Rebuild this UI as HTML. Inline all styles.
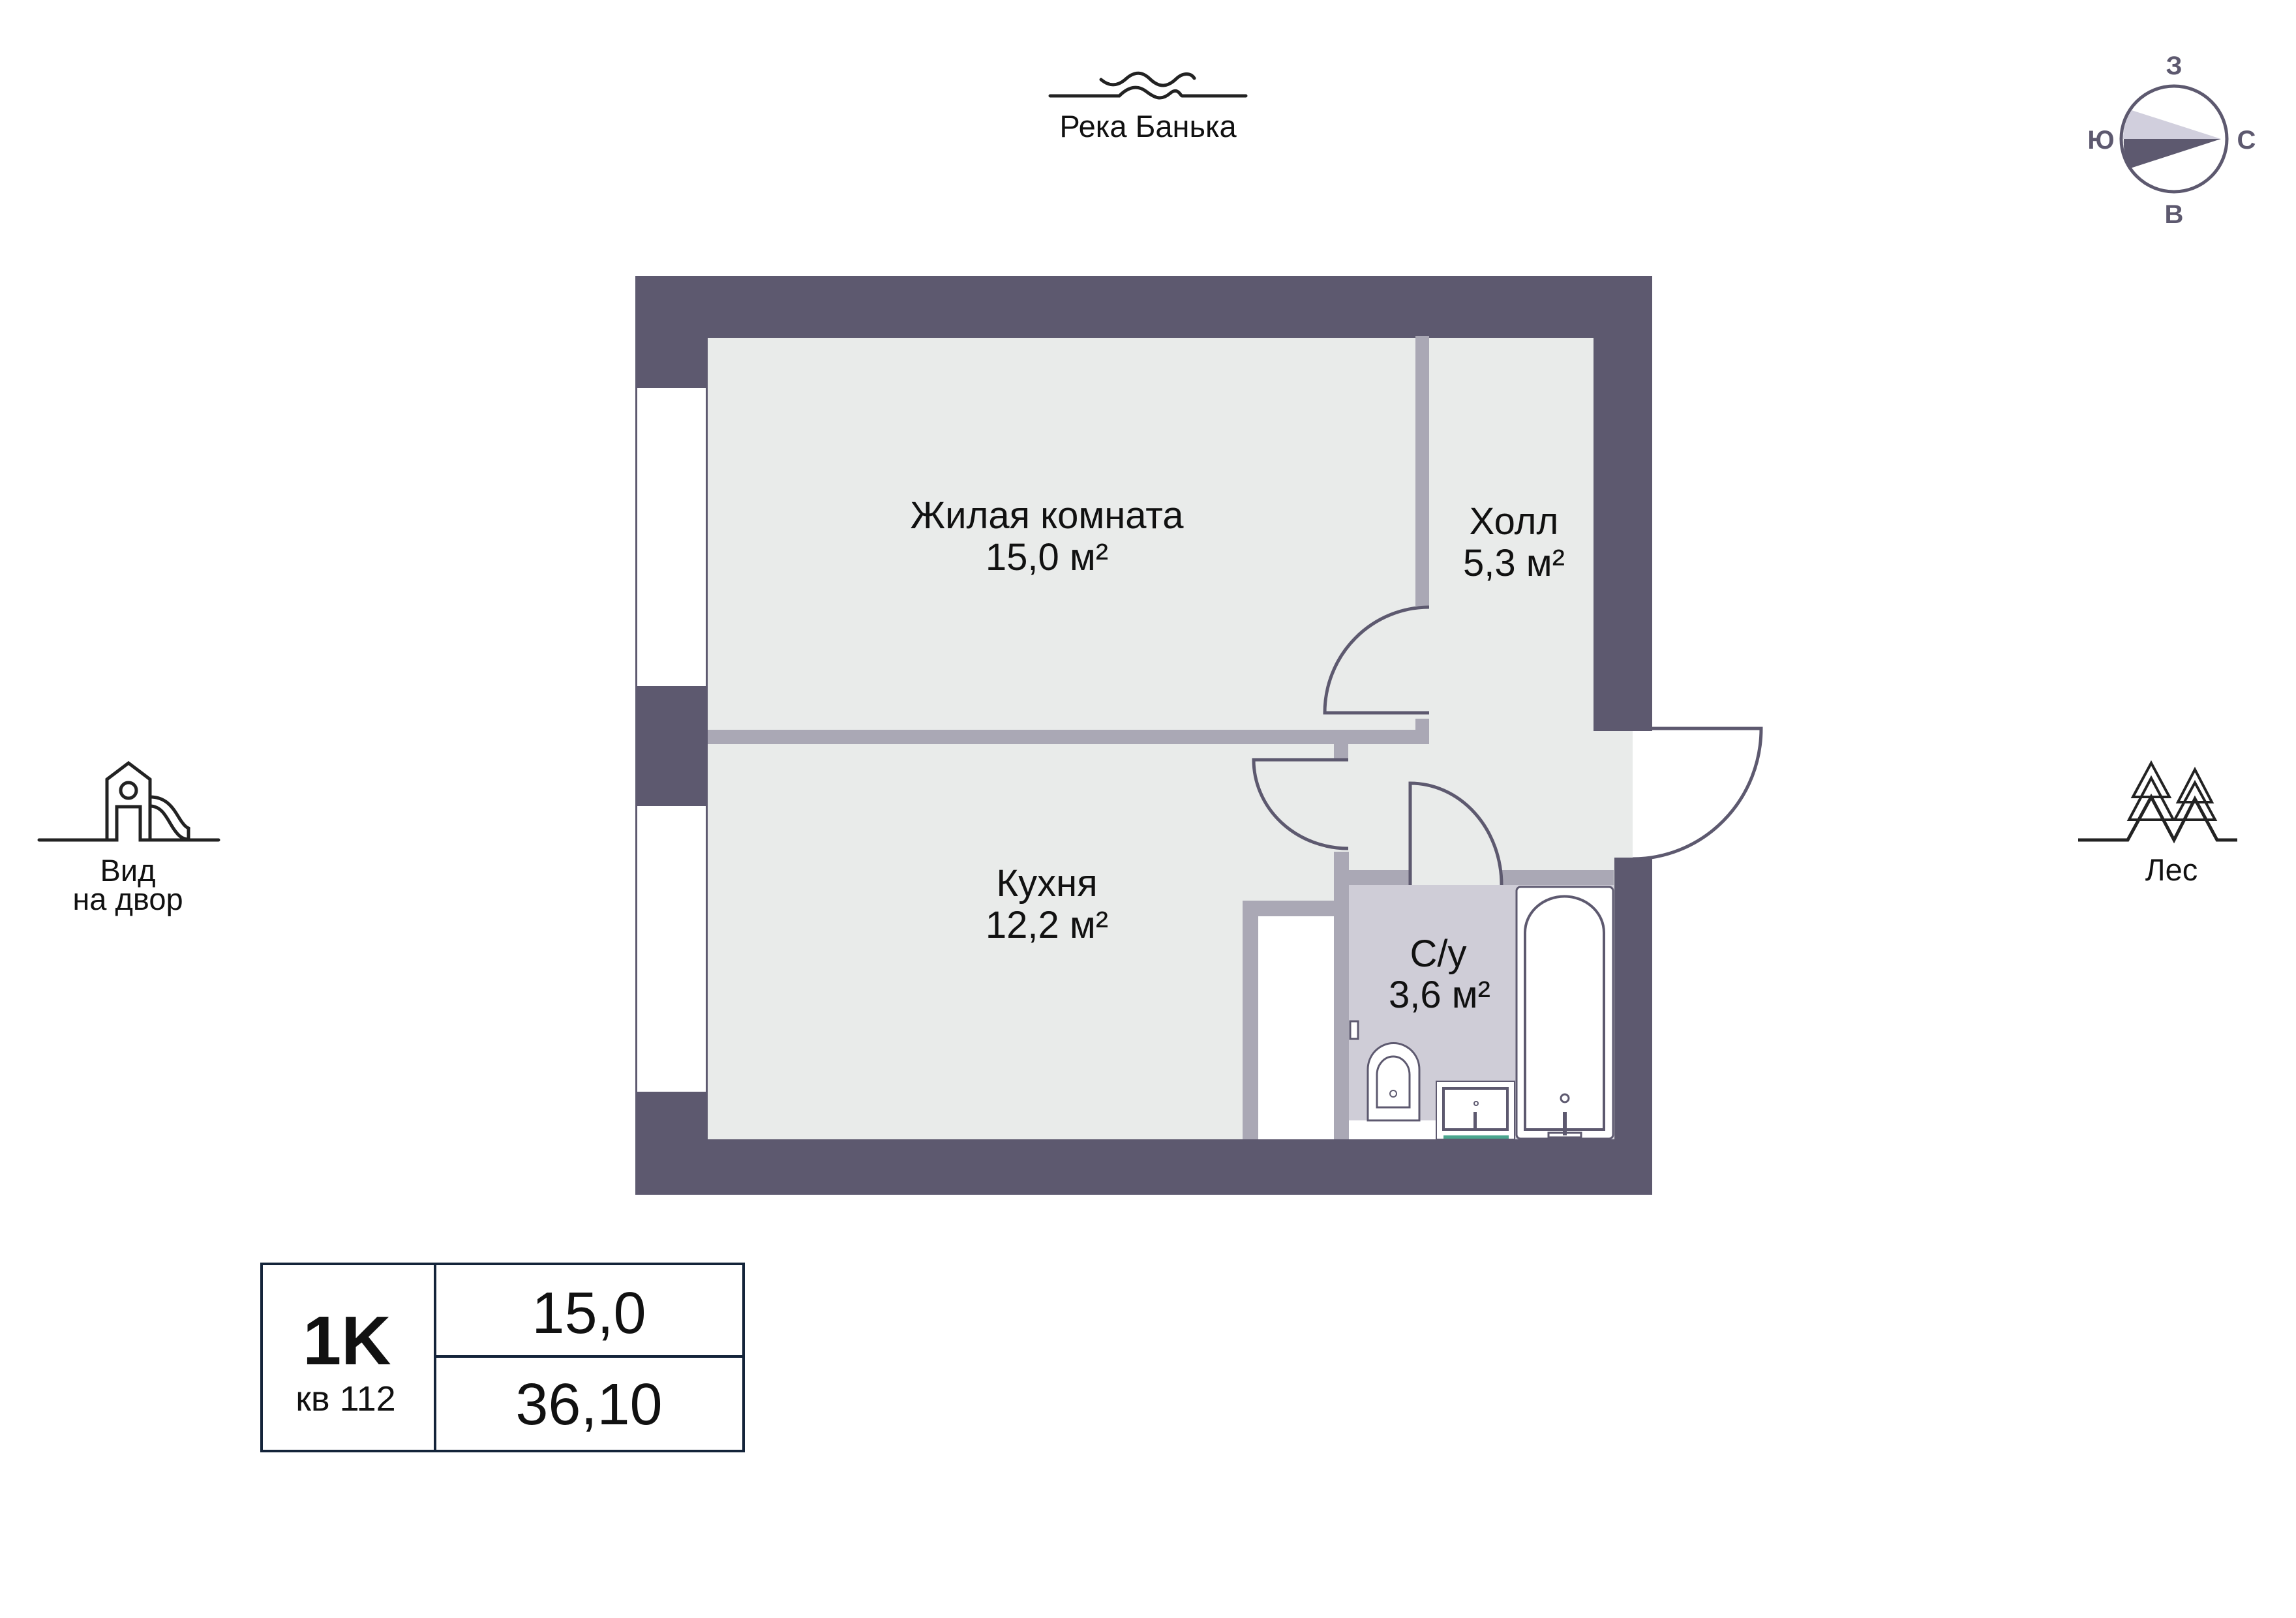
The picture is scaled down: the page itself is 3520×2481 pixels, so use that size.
<!DOCTYPE html>
<html><head><meta charset="utf-8"><style>
html,body{margin:0;padding:0;background:#fff;}
svg{display:block;}
text{font-family:"Liberation Sans","DejaVu Sans",sans-serif;}
</style></head><body>
<svg width="3520" height="2481" viewBox="0 0 3520 2481" xmlns="http://www.w3.org/2000/svg">
<rect width="3520" height="2481" fill="#fff"/>
<rect x="974" y="423" width="1559" height="1409" fill="#5d596f"/>
<rect x="1085" y="518" width="1358" height="1229" fill="#e9ebea"/>
<rect x="2443" y="1121" width="60" height="194" fill="#e9ebea"/>
<rect x="2503" y="1121" width="30" height="194" fill="#fff"/>
<rect x="2443" y="1315" width="32" height="432" fill="#e9ebea"/>
<rect x="977" y="595" width="105" height="457" fill="#fff"/>
<rect x="977" y="1236" width="105" height="438" fill="#fff"/>
<rect x="2170" y="515" width="21" height="414" fill="#aaa8b5"/>
<rect x="2170" y="1102" width="21" height="39" fill="#aaa8b5"/>
<rect x="1085" y="1119" width="1106" height="22" fill="#aaa8b5"/>
<rect x="2045" y="1141" width="22" height="24" fill="#aaa8b5"/>
<rect x="2045" y="1306" width="23" height="441" fill="#aaa8b5"/>
<rect x="2068" y="1334" width="94" height="23" fill="#aaa8b5"/>
<rect x="2302" y="1334" width="172" height="23" fill="#aaa8b5"/>
<rect x="1905" y="1381" width="140" height="366" fill="#aaa8b5"/>
<rect x="1929" y="1405" width="116" height="342" fill="#fff"/>
<rect x="2068" y="1357" width="406" height="390" fill="#cfcdd7"/>
<g fill="none" stroke="#5d596f" stroke-width="5">
<path d="M2191 1093 L2031 1093 A160 162 0 0 1 2191 931"/>
<path d="M2067 1165 L1922 1165 A145 136 0 0 0 2067 1301"/>
<path d="M2162 1357 L2162 1201 A140 156 0 0 1 2302 1357"/>
<path d="M2503 1117 L2700 1117 A197 200 0 0 1 2503 1317"/>
</g>
<rect x="2443" y="1110" width="90" height="11" fill="#5d596f"/>
<rect x="2325" y="1360" width="148" height="386" rx="6" fill="#fff" stroke="#5d596f" stroke-width="3"/>
<path d="M2338 1732 L2338 1430 A60 55 0 0 1 2459 1430 L2459 1732 Z" fill="#fff" stroke="#5d596f" stroke-width="4"/>
<circle cx="2399" cy="1684" r="6" fill="none" stroke="#5d596f" stroke-width="3"/>
<rect x="2396" y="1705" width="6" height="36" fill="#5d596f"/>
<rect x="2374" y="1737" width="50" height="7" fill="none" stroke="#5d596f" stroke-width="3"/>
<rect x="2068" y="1718" width="134" height="29" fill="#fff"/>
<path d="M2097 1718 L2097 1640 A39 40 0 0 1 2176 1640 L2176 1718 Z" fill="#fff" stroke="#5d596f" stroke-width="3"/>
<path d="M2111 1698 L2111 1648 A25 28 0 0 1 2161 1648 L2161 1698 Z" fill="none" stroke="#5d596f" stroke-width="3"/>
<circle cx="2136" cy="1677" r="5" fill="none" stroke="#5d596f" stroke-width="2"/>
<rect x="2070" y="1566" width="12" height="27" fill="#fff" stroke="#5d596f" stroke-width="3"/>
<rect x="2202" y="1658" width="120" height="89" fill="#fff" stroke="#5d596f" stroke-width="2"/>
<rect x="2213" y="1669" width="98" height="63" fill="#fff" stroke="#5d596f" stroke-width="4"/>
<rect x="2259" y="1705" width="5" height="27" fill="#5d596f"/>
<circle cx="2263" cy="1692" r="3" fill="none" stroke="#5d596f" stroke-width="2"/>
<rect x="2213" y="1741" width="100" height="5" fill="#4aa58e"/>
<g font-size="58" fill="#111" text-anchor="middle">
<text x="1605" y="810">Жилая комната</text>
<text x="1605" y="874">15,0 м²</text>
<text x="2321" y="819">Холл</text>
<text x="2321" y="883">5,3 м²</text>
<text x="1605" y="1374">Кухня</text>
<text x="1605" y="1438">12,2 м²</text>
<text x="2205" y="1482">С/у</text>
<text x="2207" y="1545">3,6 м²</text>
</g>
<g fill="none" stroke="#222" stroke-width="5" stroke-linecap="round">
<path d="M1610 147 L1716 147 C1730 133 1744 130 1757 140 C1770 150 1780 155 1794 143 C1806 133 1810 147 1812 147 L1910 147"/>
<path d="M1688 122 C1700 132 1712 133 1725 122 C1740 108 1752 110 1764 122 C1778 135 1790 133 1802 122 C1814 110 1826 112 1831 120"/>
</g>
<text x="1760" y="210" font-size="47" fill="#111" text-anchor="middle">Река Банька</text>
<circle cx="3333" cy="213" r="81" fill="#fff" stroke="#5d596f" stroke-width="5"/>
<path d="M3405 213 L3268 169 A81 81 0 0 0 3255 213 Z" fill="#d1cfdd"/>
<path d="M3405 213 L3256 213 A81 81 0 0 0 3266 258 Z" fill="#5d596f"/>
<g font-size="40" font-weight="bold" fill="#5d596f" text-anchor="middle">
<text x="3333" y="114">З</text>
<text x="3333" y="342">В</text>
<text x="3221" y="228">Ю</text>
<text x="3444" y="228">С</text>
</g>
<g fill="none" stroke="#222" stroke-width="5" stroke-linecap="round" stroke-linejoin="miter">
<path d="M60 1288 L179 1288 L179 1237 L215 1237 L215 1288 L335 1288"/>
<path d="M164 1288 L164 1195 L197 1170 L230 1195 L230 1288"/>
<circle cx="197" cy="1212" r="12"/>
<path d="M230 1222 C262 1222 270 1250 280 1262 C286 1270 290 1270 289 1270 L289 1288"/>
<path d="M230 1236 C252 1236 258 1262 270 1276 C276 1284 282 1287 289 1287"/>
</g>
<g font-size="47" fill="#111" text-anchor="middle">
<text x="196" y="1351">Вид</text>
<text x="196" y="1395">на двор</text>
</g>
<g fill="none" stroke="#222" stroke-width="4" stroke-linejoin="miter">
<path d="M3186 1288 L3262 1288 L3298 1222 L3333 1288 L3365 1225 L3399 1288 L3430 1288" stroke-width="5"/>
<path d="M3264 1257 L3298 1193 L3332 1257 Z"/>
<path d="M3270 1222 L3298 1170 L3326 1222 Z"/>
<path d="M3334 1257 L3365 1200 L3396 1257 Z"/>
<path d="M3339 1230 L3365 1180 L3391 1230 Z"/>
</g>
<text x="3329" y="1350" font-size="47" fill="#111" text-anchor="middle">Лес</text>
<g fill="none" stroke="#14243a" stroke-width="4">
<rect x="401" y="1938" width="739" height="287"/>
<line x1="667" y1="1938" x2="667" y2="2225"/>
<line x1="667" y1="2080" x2="1140" y2="2080"/>
</g>
<text x="532" y="2092" font-size="106" font-weight="bold" fill="#111" text-anchor="middle">1K</text>
<text x="530" y="2163" font-size="54" fill="#111" text-anchor="middle">кв 112</text>
<text x="903" y="2044" font-size="90" fill="#111" text-anchor="middle">15,0</text>
<text x="903" y="2184" font-size="90" fill="#111" text-anchor="middle">36,10</text>
</svg>
</body></html>
